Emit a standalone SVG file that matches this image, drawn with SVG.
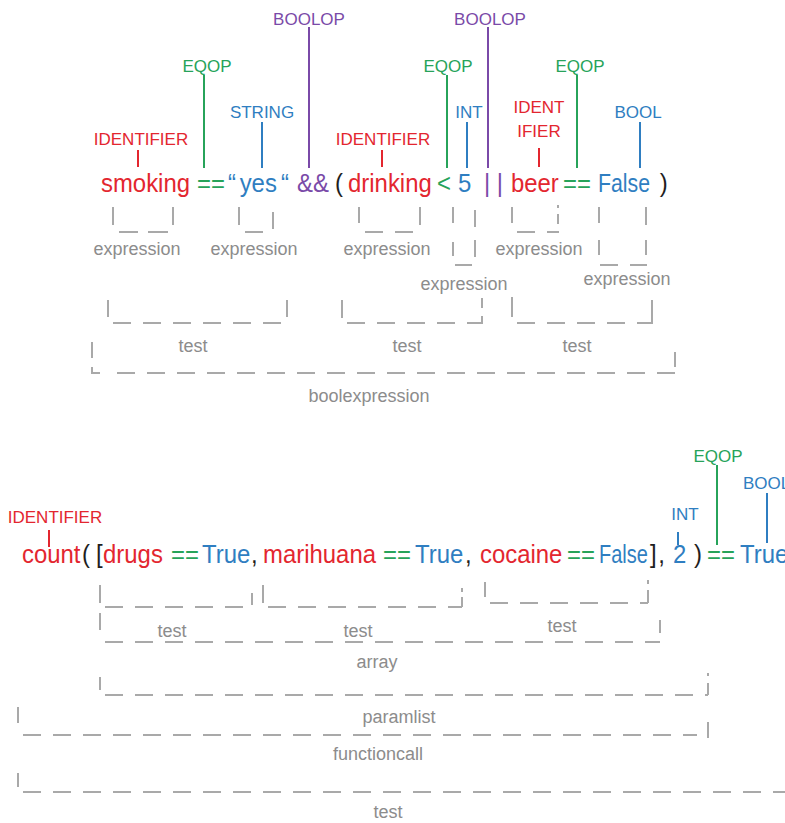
<svg xmlns="http://www.w3.org/2000/svg" width="785" height="823" viewBox="0 0 785 823">
  <style>
    text { font-family: "Liberation Sans", Arial, sans-serif; }
    .code { font-size: 26px; }
    .tag { font-size: 17px; text-anchor: middle; }
    .rule { font-size: 18px; fill: #8c8c8c; text-anchor: middle; }
    .red { fill: #e3262f; }
    .green { fill: #27a35a; }
    .blue { fill: #2f7ec1; }
    .purple { fill: #7a4aa8; }
    .dark { fill: #1e1e1e; }
    .ln { stroke-width: 2; fill: none; }
    .lred { stroke: #e3262f; }
    .lgreen { stroke: #27a35a; }
    .lblue { stroke: #2f7ec1; }
    .lpurple { stroke: #7a4aa8; }
    .br { stroke: #a9a9a9; stroke-width: 2; fill: none; }
    .dash { stroke-dasharray: 18 12; }
  </style>

  <rect width="785" height="823" fill="#ffffff"/>

  <!-- first statement: tokens (narrowed horizontally, x given in narrowed units) -->
  <g id="code1" class="code" transform="scale(0.92 1)">
    <text x="109.8" y="192" class="red">smoking</text>
    <text x="214.1" y="192" class="green">==</text>
    <text x="247.8" y="192" class="blue">“</text>
    <text x="260.5" y="192" class="blue">yes</text>
    <text x="305.5" y="192" class="blue">“</text>
    <text x="322.8" y="192" class="purple">&amp;&amp;</text>
    <text x="364.1" y="192" class="dark">(</text>
    <text x="378.3" y="192" class="red">drinking</text>
    <text x="475" y="192" class="green">&lt;</text>
    <text x="497.8" y="192" class="blue">5</text>
    <text x="526.1" y="192" class="purple">| |</text>
    <text x="555.4" y="192" class="red">beer</text>
    <text x="612" y="192" class="green">==</text>
    <text x="650" y="192" class="blue" textLength="56.5" lengthAdjust="spacingAndGlyphs">False</text>
    <text x="717" y="192" class="dark">)</text>
  </g>

  <!-- first statement: token type tags -->
  <g id="tags1">
    <text id="t-ident1" x="141" y="145" class="tag red">IDENTIFIER</text>
    <text id="t-eqop1" x="207" y="72" class="tag green">EQOP</text>
    <text id="t-string" x="262" y="118" class="tag blue">STRING</text>
    <text id="t-boolop1" x="309" y="25" class="tag purple">BOOLOP</text>
    <text id="t-ident2" x="383" y="145" class="tag red">IDENTIFIER</text>
    <text id="t-eqop2" x="448" y="72" class="tag green">EQOP</text>
    <text id="t-int1" x="469" y="118" class="tag blue">INT</text>
    <text id="t-boolop2" x="490" y="25" class="tag purple">BOOLOP</text>
    <g id="t-ident3" class="tag red">
      <text x="539" y="113">IDENT</text>
      <text x="539" y="137">IFIER</text>
    </g>
    <text id="t-eqop3" x="580" y="72" class="tag green">EQOP</text>
    <text id="t-bool1" x="638" y="118" class="tag blue">BOOL</text>
  </g>

  <!-- first statement: rule names -->
  <g id="rules1">
    <text x="137" y="255" class="rule">expression</text>
    <text x="254" y="255" class="rule">expression</text>
    <text x="387" y="255" class="rule">expression</text>
    <text x="464" y="290" class="rule">expression</text>
    <text x="539" y="255" class="rule">expression</text>
    <text x="627" y="285" class="rule">expression</text>
    <text x="193" y="352" class="rule">test</text>
    <text x="407" y="352" class="rule">test</text>
    <text x="577" y="352" class="rule">test</text>
    <text x="369" y="402" class="rule">boolexpression</text>
  </g>

  <!-- second statement: tokens (narrowed horizontally, x given in narrowed units) -->
  <g id="code2" class="code" transform="scale(0.92 1)">
    <text x="23.9" y="563" class="red">count</text>
    <text x="89.1" y="563" class="dark">(</text>
    <text x="104.3" y="563" class="dark">[</text>
    <text x="112" y="563" class="red">drugs</text>
    <text x="185.9" y="563" class="green">==</text>
    <text x="219.6" y="563" class="blue">True</text>
    <text x="272.8" y="563" class="dark">,</text>
    <text x="285.9" y="563" class="red">marihuana</text>
    <text x="416.3" y="563" class="green">==</text>
    <text x="451.1" y="563" class="blue">True</text>
    <text x="505.4" y="563" class="dark">,</text>
    <text x="521.7" y="563" class="red">cocaine</text>
    <text x="616.3" y="563" class="green">==</text>
    <text x="651.1" y="563" class="blue" textLength="53" lengthAdjust="spacingAndGlyphs">False</text>
    <text x="706.5" y="563" class="dark">]</text>
    <text x="715.5" y="563" class="dark">,</text>
    <text x="731.5" y="563" class="blue">2</text>
    <text x="754.3" y="563" class="dark">)</text>
    <text x="768.5" y="563" class="green">==</text>
    <text x="804.3" y="563" class="blue">True</text>
  </g>

  <!-- second statement: token type tags -->
  <g id="tags2">
    <text id="t-ident4" x="55" y="523" class="tag red">IDENTIFIER</text>
    <text id="t-int2" x="685" y="520" class="tag blue">INT</text>
    <text id="t-eqop4" x="718" y="462" class="tag green">EQOP</text>
    <text id="t-bool2" x="743" y="489" class="tag blue" style="text-anchor:start">BOOL</text>
  </g>

  <!-- second statement: rule names -->
  <g id="rules2">
    <text x="172" y="637" class="rule">test</text>
    <text x="358" y="637" class="rule">test</text>
    <text x="562" y="632" class="rule">test</text>
    <text x="377" y="668" class="rule">array</text>
    <text x="399" y="723" class="rule">paramlist</text>
    <text x="378" y="760" class="rule">functioncall</text>
    <text x="388" y="818" class="rule">test</text>
  </g>

  <g id="connectors">
    <!-- tag pointers, first statement -->
    <path class="ln lred" d="M138 150V167M382 150V167M539 148V167"/>
    <path class="ln lgreen" d="M204 75V168M447 75V168M577 75V168"/>
    <path class="ln lblue" d="M262 122V168M467 122V168M640 122V168"/>
    <path class="ln lpurple" d="M309 27V168M488 27V168"/>

    <!-- tag pointers, second statement -->
    <path class="ln lred" d="M49 530V547"/>
    <path class="ln lblue" d="M678 532V545M767 493V543"/>
    <path class="ln lgreen" d="M717 465V545"/>

    <!-- expression brackets -->
    <path class="br" d="M113 207V225M173 207V225"/>
    <path class="br" d="M119 232H138M148 232H168"/>
    <path class="br" d="M239 207V225M273 212V229M245 232H263"/>
    <path class="br" d="M359 207V223M420 207V225M365 232H383M395 232H413"/>
    <path class="br" d="M453 207V223M453 242V256M475 210V227M475 240V257M455 265H472"/>
    <path class="br" d="M512 207V223M558 205V208M558 214V224M517 232H535M547 232H559"/>
    <path class="br" d="M599 207V223M599 240V255M646 207V225M646 240V255M600 265H618M630 265H647"/>

    <!-- test brackets -->
    <path class="br" d="M108 300V317M287 300V317"/>
    <path class="br dash" d="M113 323H282"/>
    <path class="br" d="M342 300V318M482 298V308M482 316V323"/>
    <path class="br dash" d="M347 323H483"/>
    <path class="br" d="M512 297V317M652 300V322"/>
    <path class="br dash" d="M517 323H653"/>

    <!-- boolexpression bracket -->
    <path class="br" d="M92 342V358M92 367V373H100M675 352V367"/>
    <path class="br dash" d="M117 373H675"/>

    <!-- test brackets inside the array -->
    <path class="br" d="M100 585V603M252 593V605"/>
    <path class="br dash" d="M105 607H247"/>
    <path class="br" d="M263 585V603M462 588V592M462 597V607"/>
    <path class="br dash" d="M268 607H462"/>
    <path class="br" d="M485 582V597M648 580V584M648 590V603"/>
    <path class="br dash" d="M490 603H648"/>

    <!-- array bracket -->
    <path class="br" d="M100 613V630M660 620V633"/>
    <path class="br dash" d="M105 642H660"/>

    <!-- paramlist bracket -->
    <path class="br" d="M100 677V690M708 673V676M708 683V695"/>
    <path class="br dash" d="M105 695H708"/>

    <!-- functioncall bracket -->
    <path class="br" d="M18 707V723M708 722V738"/>
    <path class="br dash" d="M23 735H697"/>

    <!-- outer test bracket -->
    <path class="br" d="M18 773V787"/>
    <path class="br dash" d="M23 792H785"/>
  </g>
</svg>
